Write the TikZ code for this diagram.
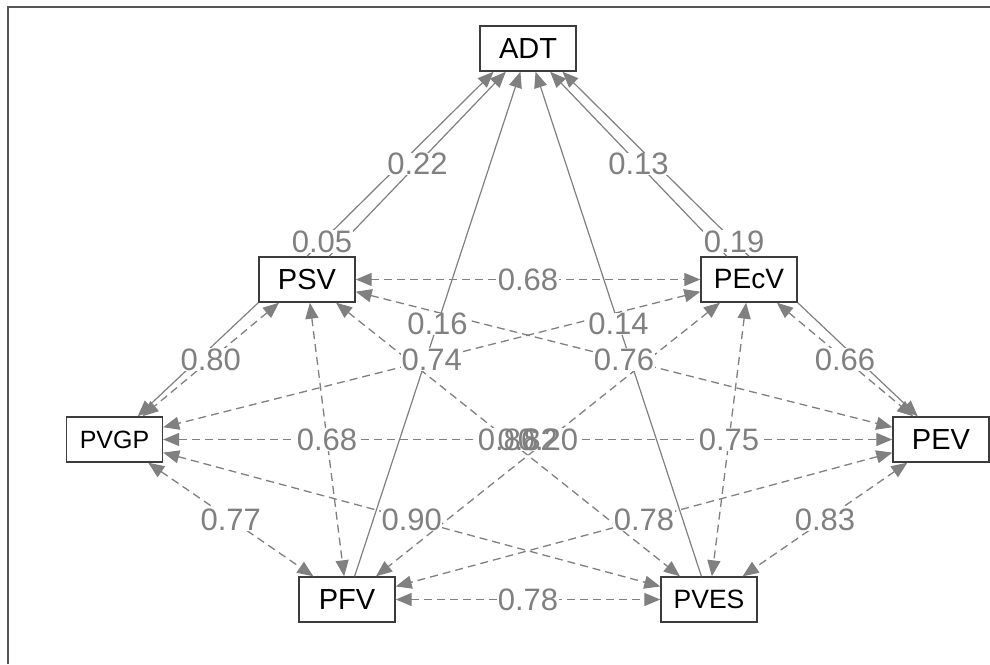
\documentclass[tikz,border=0pt]{standalone}
\usepackage{fontspec}
\setmainfont{Liberation Sans}
\usetikzlibrary{arrows.meta,calc}
\definecolor{edgec}{RGB}{128,128,128}
\definecolor{boxc}{RGB}{60,60,60}
\definecolor{framec}{RGB}{85,85,85}
\begin{document}
\begin{tikzpicture}[x=1pt,y=1pt,
  var/.style={draw=boxc, line width=1.4pt, fill=white, minimum width=96pt, minimum height=45pt, inner sep=0pt},
  reg/.style={draw=edgec, line width=1.2pt, -{Triangle[length=16pt,width=13pt]}},
  cov/.style={draw=edgec, line width=1.3pt, dash pattern=on 8pt off 5pt, {Triangle[length=16pt,width=13pt]}-{Triangle[length=16pt,width=13pt]}},
  lbl/.style={text=edgec, fill=white, inner sep=0.5pt, font=\fontsize{31}{31}\selectfont},
  lblo/.style={text=edgec, inner sep=0.5pt, font=\fontsize{31}{31}\selectfont}]
\useasboundingbox (0,0) rectangle (990,664);
\fill[white] (0,0) rectangle (990,664);
\draw[framec, line width=2pt] (7.5,0) -- (7.5,656.5) -- (990,656.5);

% variables
\node[var, font=\fontsize{29}{29}\selectfont] (ADT)  at (528,615.5) {ADT};
\node[var, font=\fontsize{29}{29}\selectfont] (PSV)  at (307,384.5) {PSV};
\node[var, font=\fontsize{28}{28}\selectfont] (PEcV) at (749,384.5) {PEcV};
\node[var, font=\fontsize{25}{25}\selectfont] (PVGP) at (114.5,224.5) {PVGP};
\node[var, font=\fontsize{29}{29}\selectfont] (PEV)  at (941,224.5) {PEV};
\node[var, font=\fontsize{29}{29}\selectfont] (PFV)  at (347,64.5) {PFV};
\node[var, font=\fontsize{26.5}{26.5}\selectfont] (PVES) at (709,64.5) {PVES};

% regressions
\draw[reg] (PSV) -- (ADT);
\draw[reg] (PSV.north) -- (ADT.214);
\draw[reg] (PEcV) -- (ADT);
\draw[reg] (PEcV.north) -- (ADT.-34);
\draw[reg] (PFV) -- (ADT);
\draw[reg] (PVES) -- (ADT);
\draw[reg] (PSV.south west) -- (PVGP.45);
\draw[reg] (PEcV.south east) -- (PEV.135);

% covariances
\draw[cov] (PSV) -- (PEcV);
\draw[cov] (PSV) -- (PVGP);
\draw[cov] (PSV) -- (PEV);
\draw[cov] (PSV) -- (PFV);
\draw[cov] (PSV) -- (PVES);
\draw[cov] (PEcV) -- (PVGP);
\draw[cov] (PEcV) -- (PEV);
\draw[cov] (PEcV) -- (PFV);
\draw[cov] (PEcV) -- (PVES);
\draw[cov] (PVGP) -- (PEV);
\draw[cov] (PVGP) -- (PFV);
\draw[cov] (PVGP) -- (PVES);
\draw[cov] (PEV) -- (PFV);
\draw[cov] (PEV) -- (PVES);
\draw[cov] (PFV) -- (PVES);

% labels
\path (PSV) -- (ADT) node[lbl, midway] {0.22};
\path (PSV.north) -- (ADT.214) node[lbl, pos=0.08] {0.05};
\path (PEcV) -- (ADT) node[lbl, midway] {0.13};
\path (PEcV.north) -- (ADT.-34) node[lbl, pos=0.08] {0.19};
\path (PFV) -- (ADT) node[lbl, midway] {0.16};
\path (PVES) -- (ADT) node[lbl, midway] {0.14};
\path (PSV) -- (PEcV) node[lbl, midway] {0.68};
\path (PSV) -- (PVGP) node[lbl, midway] {0.80};
\path (PSV) -- (PEV) node[lbl, midway] {0.76};
\path (PSV) -- (PFV) node[lbl, midway] {0.68};
\path (PEcV) -- (PVGP) node[lbl, midway] {0.74};
\path (PEcV) -- (PEV) node[lbl, midway] {0.66};
\path (PEcV) -- (PVES) node[lbl, midway] {0.75};
\path (PVGP) -- (PFV) node[lbl, midway] {0.77};
\path (PVGP) -- (PVES) node[lbl, midway] {0.90};
\path (PEV) -- (PFV) node[lbl, midway] {0.78};
\path (PEV) -- (PVES) node[lbl, midway] {0.83};
\path (PFV) -- (PVES) node[lbl, midway] {0.78};
\fill[white] (476,213) rectangle (580,236);
\path (PSV) -- (PVES) node[lblo, midway] {0.86};
\path (PVGP) -- (PEV) node[lblo, midway] {0.82};
\path (PEcV) -- (PFV) node[lblo, midway] {0.20};
\end{tikzpicture}
\end{document}
